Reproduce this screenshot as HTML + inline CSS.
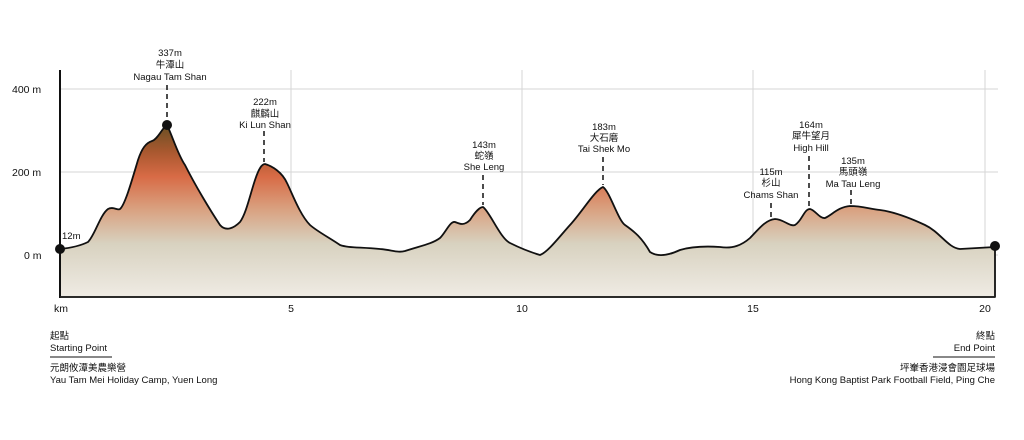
<!DOCTYPE html><html><head><meta charset="utf-8"><style>
body{margin:0;background:#fff;width:1024px;height:435px;overflow:hidden}
text{font-family:"Liberation Sans","Noto Sans CJK TC",sans-serif;fill:#111}
</style></head><body>
<svg width="1024" height="435" viewBox="0 0 1024 435" xmlns="http://www.w3.org/2000/svg">
<defs><linearGradient id="g" gradientUnits="userSpaceOnUse" x1="0" y1="120" x2="0" y2="297">
<stop offset="0" stop-color="#5e4e22"/><stop offset="0.18" stop-color="#a9582f"/><stop offset="0.32" stop-color="#d86b46"/><stop offset="0.5" stop-color="#d9a07f"/><stop offset="0.7" stop-color="#d8d2c0"/><stop offset="1" stop-color="#efebe4"/></linearGradient></defs>
<g stroke="#d6d6d6" stroke-width="1">
<line x1="60" y1="89" x2="998" y2="89"/><line x1="60" y1="172" x2="998" y2="172"/><line x1="60" y1="255" x2="998" y2="255"/>
<line x1="291" y1="70" x2="291" y2="297"/><line x1="522" y1="70" x2="522" y2="297"/><line x1="753" y1="70" x2="753" y2="297"/><line x1="985" y1="70" x2="985" y2="297"/>
</g>
<path d="M60,249 C70,248 80,246 88,242 C95,235 100,215 108,209 C113,206 118,211 120,209 C125,205 132,180 138,160 C142,148 146,143 152,141 C158,139 162,128 167,125 C172,135 178,155 185,165 C195,185 210,210 220,225 C226,232 234,228 240,222 C246,214 250,195 255,180 C259,168 262,164 265,164 C272,166 282,172 287,183 C292,193 300,215 310,225 C318,232 330,238 340,245 C348,248 360,247 380,249 C392,250 398,253 405,251 C420,246 432,244 440,238 C446,232 450,221 455,222 C460,224 464,226 470,220 C475,212 480,207 483,207 C490,212 500,238 510,243 C520,248 530,252 540,255 C548,252 560,236 570,225 C582,212 595,190 603,187 C610,192 618,220 625,225 C635,232 642,238 650,252 C656,256 665,257 680,250 C690,247 705,246 720,247 C733,249 742,245 750,238 C758,230 765,220 775,219 C783,219 790,227 795,225 C802,221 804,209 810,209 C815,210 820,219 825,218 C832,215 838,207 850,206 C862,206 870,209 880,210 C895,212 910,218 925,225 C940,232 948,248 960,249 L995,247 L995,297 L60,297 Z" fill="url(#g)" stroke="#111" stroke-width="1.8" stroke-linejoin="round"/>
<line x1="60" y1="70" x2="60" y2="298" stroke="#111" stroke-width="2"/>
<line x1="60" y1="297" x2="995" y2="297" stroke="#222" stroke-width="1.5"/>
<circle cx="60" cy="249" r="5" fill="#111"/><circle cx="167" cy="125" r="5" fill="#111"/><circle cx="995" cy="246" r="5" fill="#111"/>
<g stroke="#111" stroke-width="1.5" stroke-dasharray="5,4">
<line x1="167" y1="85" x2="167" y2="120"/><line x1="264" y1="131" x2="264" y2="162"/><line x1="483" y1="175" x2="483" y2="205"/><line x1="603" y1="157" x2="603" y2="185"/><line x1="771" y1="203" x2="771" y2="218"/><line x1="809" y1="156" x2="809" y2="208"/><line x1="851" y1="190" x2="851" y2="205"/>
</g>
<g font-size="9.5" text-anchor="middle">
<text x="170" y="56">337m</text><text x="170" y="68">牛潭山</text><text x="170" y="80">Nagau Tam Shan</text>
<text x="265" y="105">222m</text><text x="265" y="117">麒麟山</text><text x="265" y="128">Ki Lun Shan</text>
<text x="484" y="148">143m</text><text x="484" y="159">蛇嶺</text><text x="484" y="170">She Leng</text>
<text x="604" y="130">183m</text><text x="604" y="141">大石磨</text><text x="604" y="152">Tai Shek Mo</text>
<text x="771" y="175">115m</text><text x="771" y="186">杉山</text><text x="771" y="198">Chams Shan</text>
<text x="811" y="128">164m</text><text x="811" y="139">犀牛望月</text><text x="811" y="151">High Hill</text>
<text x="853" y="164">135m</text><text x="853" y="175">馬頭嶺</text><text x="853" y="187">Ma Tau Leng</text>
</g>
<text x="62" y="239" font-size="9.5">12m</text>
<g font-size="10.5"><text x="12" y="93">400 m</text><text x="12" y="176">200 m</text><text x="24" y="259">0 m</text>
<text x="54" y="312">km</text><text x="291" y="312" text-anchor="middle">5</text><text x="522" y="312" text-anchor="middle">10</text><text x="753" y="312" text-anchor="middle">15</text><text x="985" y="312" text-anchor="middle">20</text></g>
<g font-size="9.5">
<text x="50" y="339">起點</text><text x="50" y="351">Starting Point</text>
<line x1="50" y1="357" x2="112" y2="357" stroke="#111"/>
<text x="50" y="371">元朗攸潭美農樂營</text><text x="50" y="383">Yau Tam Mei Holiday Camp, Yuen Long</text>
<g text-anchor="end"><text x="995" y="339">終點</text><text x="995" y="351">End Point</text>
<text x="995" y="371">坪輋香港浸會園足球場</text><text x="995" y="383">Hong Kong Baptist Park Football Field, Ping Che</text></g>
<line x1="933" y1="357" x2="995" y2="357" stroke="#111"/>
</g>
</svg></body></html>
